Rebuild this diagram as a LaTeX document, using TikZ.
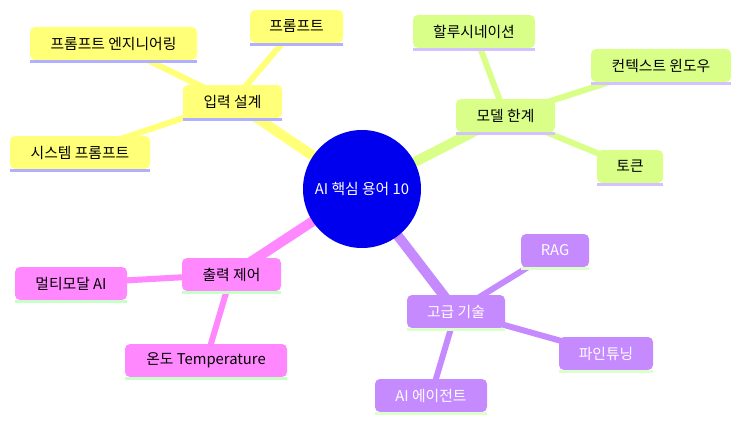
\documentclass[tikz,border=0pt]{standalone}
\usepackage{fontspec}
\setmainfont{Noto Sans CJK KR}
\usetikzlibrary{backgrounds}
\pgfdeclarelayer{edges}
\pgfsetlayers{background,edges,main}
\definecolor{rootc}{HTML}{0000EE}
\definecolor{yel}{HTML}{FFFF78}
\definecolor{yelbar}{HTML}{B0B0FF}
\definecolor{grn}{HTML}{D9FF88}
\definecolor{grnbar}{HTML}{D4C2FF}
\definecolor{pnk}{HTML}{FF88FF}
\definecolor{pnkbar}{HTML}{C8FFC8}
\definecolor{prp}{HTML}{C68AFF}
\definecolor{prpbar}{HTML}{DDFFCC}
\tikzset{
  mmbox/.style={rounded corners=5pt, minimum height=33pt, inner sep=0pt,
    font=\fontsize{14.8}{16}\selectfont},
  ybox/.style={mmbox, fill=yel, text=black},
  gbox/.style={mmbox, fill=grn, text=black},
  pbox/.style={mmbox, fill=pnk, text=black},
  vbox/.style={mmbox, fill=prp, text=white},
  bar/.style={line width=3pt},
  thick edge/.style={line width=10pt},
  thin edge/.style={line width=6pt},
}
\newcommand{\mmbar}[2]{\draw[bar,#2] ([yshift=-1.5pt]#1.south west) -- ([yshift=-1.5pt]#1.south east);}
\begin{document}
\begin{tikzpicture}[x=1pt,y=-1pt]
\begin{pgfonlayer}{background}
\fill[white] (0,0) rectangle (749,428);
\end{pgfonlayer}
\useasboundingbox (0,0) rectangle (749,428);
% root
\node[circle, fill=rootc, minimum size=118pt, inner sep=0pt, text=white,
  font=\fontsize{14.8}{16}\selectfont] (root) at (362,189) {AI 핵심 용어 10};
% yellow section
\node[ybox, minimum width=99pt] (in) at (232.5,101.5) {입력 설계};
\node[ybox, minimum width=93pt] (pr) at (296.5,26.5) {프롬프트};
\node[ybox, minimum width=167pt] (pe) at (113.5,43.5) {프롬프트 엔지니어링};
\node[ybox, minimum width=140pt] (sp) at (80,152.5) {시스템 프롬프트};
% green section
\node[gbox, minimum width=99pt] (ml) at (505.5,115.5) {모델 한계};
\node[gbox, minimum width=122pt] (ha) at (474,31.5) {할루시네이션};
\node[gbox, minimum width=140pt] (cw) at (661,65.5) {컨텍스트 윈도우};
\node[gbox, minimum width=66pt] (tk) at (630,166.5) {토큰};
% pink section
\node[pbox, minimum width=99pt] (oc) at (231.5,274.5) {출력 제어};
\node[pbox, minimum width=112pt] (mm) at (71,283.5) {멀티모달 AI};
\node[pbox, minimum width=162pt] (tp) at (206,360.5) {온도 Temperature};
% purple section
\node[vbox, minimum width=98pt] (at) at (456,311.5) {고급 기술};
\node[vbox, minimum width=68pt] (rag) at (555,250.5) {RAG};
\node[vbox, minimum width=94pt] (ft) at (606,353.5) {파인튜닝};
\node[vbox, minimum width=112pt] (ag) at (431,395.5) {AI 에이전트};
% bottom bars
\mmbar{in}{yelbar}\mmbar{pr}{yelbar}\mmbar{pe}{yelbar}\mmbar{sp}{yelbar}
\mmbar{ml}{grnbar}\mmbar{ha}{grnbar}\mmbar{cw}{grnbar}\mmbar{tk}{grnbar}
\mmbar{oc}{pnkbar}\mmbar{mm}{pnkbar}\mmbar{tp}{pnkbar}
\mmbar{at}{prpbar}\mmbar{rag}{prpbar}\mmbar{ft}{prpbar}\mmbar{ag}{prpbar}
% edges
\begin{pgfonlayer}{edges}
\draw[thick edge, yel] (root.center) -- (in.center);
\draw[thin edge, yel] (in.center) -- (pr.center);
\draw[thin edge, yel] (in.center) -- (pe.center);
\draw[thin edge, yel] (in.center) -- (sp.center);
\draw[thick edge, grn] (root.center) -- (ml.center);
\draw[thin edge, grn] (ml.center) -- (ha.center);
\draw[thin edge, grn] (ml.center) -- (cw.center);
\draw[thin edge, grn] (ml.center) -- (tk.center);
\draw[thick edge, pnk] (root.center) -- (oc.center);
\draw[thin edge, pnk] (oc.center) -- (mm.center);
\draw[thin edge, pnk] (oc.center) -- (tp.center);
\draw[thick edge, prp] (root.center) -- (at.center);
\draw[thin edge, prp] (at.center) -- (rag.center);
\draw[thin edge, prp] (at.center) -- (ft.center);
\draw[thin edge, prp] (at.center) -- (ag.center);
\end{pgfonlayer}
\end{tikzpicture}
\end{document}
